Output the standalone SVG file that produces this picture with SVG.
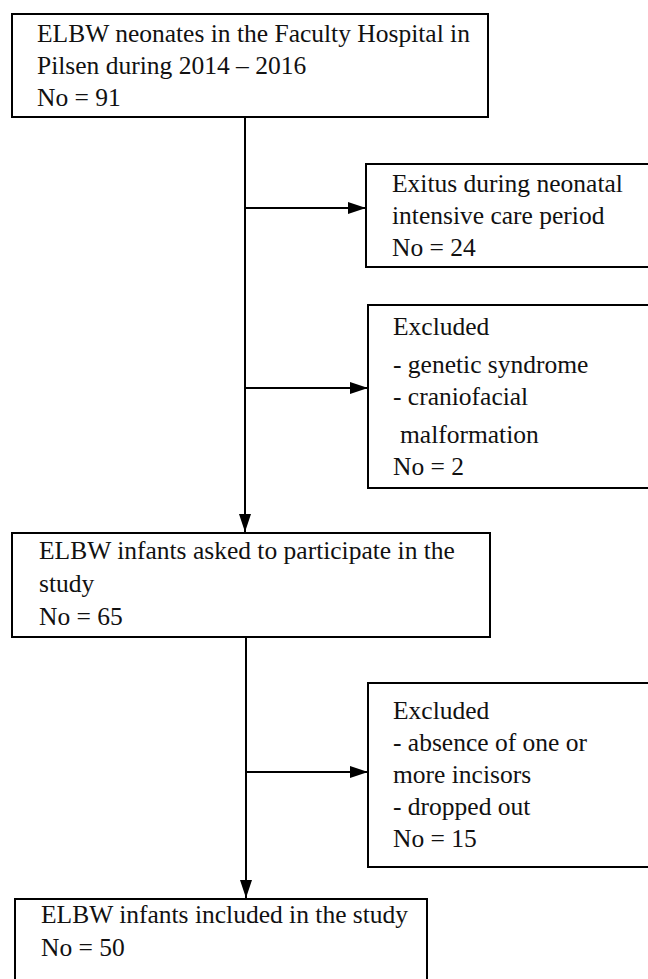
<svg xmlns="http://www.w3.org/2000/svg" width="648" height="979" viewBox="0 0 648 979">
<style>
.box{fill:#fff;stroke:#000;stroke-width:2}
.t{font-family:"Liberation Serif","Times New Roman",serif;font-size:25.5px;fill:#111}
.c{fill:none;stroke:#000;stroke-width:2}
</style>
<defs>
<marker id="ah" viewBox="0 0 18 12" refX="18" refY="6" markerWidth="18" markerHeight="12" markerUnits="userSpaceOnUse" orient="auto">
<path d="M0,0 L18,6 L0,12 z" fill="#000"/>
</marker>
</defs>
<rect width="648" height="979" fill="#fff"/>
<g id="connectors">
<path class="c" d="M245,117 V532" marker-end="url(#ah)"/>
<path class="c" d="M245,208 H366" marker-end="url(#ah)"/>
<path class="c" d="M245,388 H368" marker-end="url(#ah)"/>
<path class="c" d="M246,637 V898" marker-end="url(#ah)"/>
<path class="c" d="M246,772 H368" marker-end="url(#ah)"/>
</g>
<g id="n1">
<rect class="box" x="12" y="14" width="476" height="103"/>
<text class="t" x="37" y="42">ELBW neonates in the Faculty Hospital in</text>
<text class="t" x="37" y="74">Pilsen during 2014 – 2016</text>
<text class="t" x="37" y="106">No = 91</text>
</g>
<g id="n2">
<rect class="box" x="366" y="164" width="290" height="103"/>
<text class="t" x="392" y="192">Exitus during neonatal</text>
<text class="t" x="392" y="224">intensive care period</text>
<text class="t" x="392" y="256">No = 24</text>
</g>
<g id="n3">
<rect class="box" x="368" y="305" width="290" height="183"/>
<text class="t" x="393" y="335">Excluded</text>
<text class="t" x="393" y="373">- genetic syndrome</text>
<text class="t" x="393" y="405">- craniofacial</text>
<text class="t" x="400" y="443">malformation</text>
<text class="t" x="393" y="475">No = 2</text>
</g>
<g id="n4">
<rect class="box" x="12" y="533" width="478" height="104"/>
<text class="t" x="39" y="559">ELBW infants asked to participate in the</text>
<text class="t" x="39" y="592">study</text>
<text class="t" x="39" y="625">No = 65</text>
</g>
<g id="n5">
<rect class="box" x="368" y="683" width="290" height="184"/>
<text class="t" x="393" y="719">Excluded</text>
<text class="t" x="393" y="751">- absence of one or</text>
<text class="t" x="393" y="783">more incisors</text>
<text class="t" x="393" y="815">- dropped out</text>
<text class="t" x="393" y="847">No = 15</text>
</g>
<g id="n6">
<rect class="box" x="15" y="899" width="412" height="95"/>
<text class="t" x="41" y="923">ELBW infants included in the study</text>
<text class="t" x="41" y="956">No = 50</text>
</g>
</svg>
